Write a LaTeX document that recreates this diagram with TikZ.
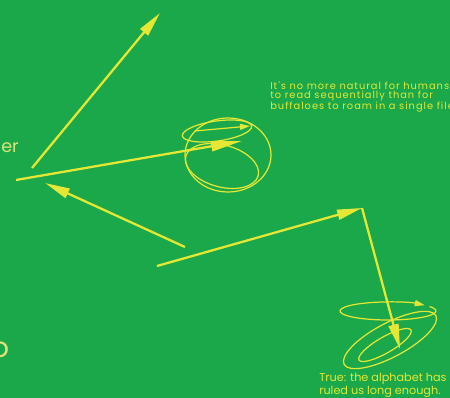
\documentclass[tikz,border=0pt]{standalone}
\usepackage{fontspec}
\newfontfamily\quotefont{Poppins}
\newfontfamily\widequotefont[LetterSpace=10]{Poppins}
\usepackage{xcolor}
\usetikzlibrary{arrows.meta,calc}
\definecolor{boardgreen}{RGB}{26,168,74}
\definecolor{chalkyellow}{RGB}{228,232,52}
\definecolor{paleyellow}{RGB}{222,226,120}
\tikzset{
  jump/.style={-{Triangle[length=0.5cm,width=0.2cm]}, line width=1.3pt, chalkyellow},
  longjump/.style={jump, -{Triangle[length=0.62cm,width=0.2cm]}},
  knot/.style={line width=0.7pt, chalkyellow},
  knotarrow/.style={knot, -{Triangle[length=0.2cm,width=0.12cm]}},
  quote/.style={font=\widequotefont\fontsize{5.6}{5.1}\selectfont, text=chalkyellow, align=left, inner sep=0pt},
  retort/.style={quote, font=\quotefont\fontsize{6.4}{7.5}\selectfont},
  scrap/.style={font=\quotefont\fontsize{10}{10}\selectfont, text=paleyellow, inner sep=0pt}
}

\begin{document}
\begin{tikzpicture}[x=0.02cm,y=-0.02cm]
\useasboundingbox (0,0) rectangle (450,398);
\fill[boardgreen] (0,0) rectangle (450,398);
\clip (0,0) rectangle (450,398);
\coordinate (upstart) at (32,168);
\coordinate (uptip) at (160,13);
\coordinate (instart) at (16,180);
\coordinate (intip) at (242,141);
\coordinate (backstart) at (185,247);
\coordinate (backtip) at (45,183);
\coordinate (outstart) at (157,266);
\coordinate (corner) at (362,208);
\coordinate (downtip) at (400,349);
\coordinate (knottop) at (228,155);
\coordinate (knotbottom) at (390,340);
\draw[knot] (knottop) ellipse [x radius=0.86cm, y radius=0.74cm];
\draw[knot] (217,131) ellipse [x radius=0.7cm, y radius=0.2cm, rotate=8];
\draw[knot] (222,166) ellipse [x radius=0.75cm, y radius=0.42cm, rotate=-15];
\draw[knotarrow] (195,131) -- (250,126);
\draw[knot] (knotbottom) ellipse [x radius=1.04cm, y radius=0.34cm, rotate=28];
\draw[knot] (385,345) ellipse [x radius=0.6cm, y radius=0.16cm, rotate=30];
\draw[knotarrow] ($(388,311)+(30:0.96cm and 0.18cm)$) arc [start angle=30, end angle=-320, x radius=0.96cm, y radius=0.18cm];
\draw[jump] (upstart) -- (uptip);
\draw[longjump] (instart) -- (intip);
\draw[jump] (backstart) -- (backtip);
\draw[jump] (outstart) -- (corner);
\draw[jump] (corner) -- (downtip);
\node[quote, anchor=north west] (buffalo) at (270,81) {It's no more natural for humans\\to read sequentially than for\\buffaloes to roam in a single file};
\node[retort, anchor=north west] (alphabet) at (319,373) {True: the alphabet has\\ruled us long enough.};
\node[scrap, anchor=west] (er) at (1,148) {er};
\node[scrap, font=\quotefont\fontsize{16}{16}\selectfont] (o) at (0,350) {o};
\end{tikzpicture}
\end{document}
